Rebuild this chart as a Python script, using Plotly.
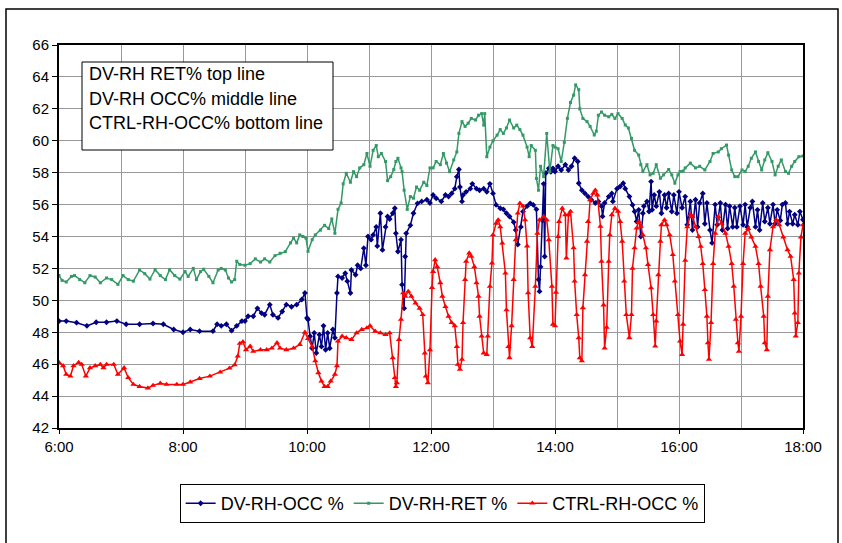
import pandas as pd
import plotly.graph_objects as go

# ---------------- data (minutes after 6:00, relative humidity %) ----------------
OCC_MIN = [0, 7, 17, 27, 36, 46, 56, 65, 78, 91, 101, 111, 120, 127, 136, 149, 153, 157, 162, 167,
           172, 177, 180, 183, 188, 192, 196, 199, 204, 207, 212, 216, 220, 225, 230, 235, 238, 240, 241, 243,
           245, 247, 249, 252, 254, 256, 258, 260, 262, 265, 267, 269, 270, 274, 277, 279, 282, 283, 287, 289,
           292, 295, 297, 299, 302, 304, 307, 308, 311, 313, 316, 318, 320, 323, 325, 326, 328, 331, 332, 334,
           335, 336, 340, 343, 347, 351, 356, 359, 362, 365, 370, 374, 377, 380, 383, 385, 387, 388, 390, 391,
           394, 398, 400, 404, 407, 411, 414, 417, 420, 423, 427, 430, 433, 436, 440, 442, 444, 447, 449, 453,
           456, 459, 462, 464, 465, 466, 468, 469, 470, 471, 474, 476, 478, 480, 483, 486, 490, 493, 496, 499,
           502, 503, 506, 509, 512, 515, 519, 522, 525, 526, 528, 532, 535, 536, 540, 543, 546, 548, 552, 555,
           557, 559, 561, 563, 565, 566, 569, 571, 573, 574, 576, 578, 581, 583, 586, 588, 590, 593, 595, 598,
           600, 603, 606, 608, 611, 613, 616, 618, 620, 623, 625, 627, 630, 632, 635, 637, 640, 642, 645, 647,
           649, 652, 654, 656, 659, 662, 664, 666, 669, 671, 674, 676, 678, 681, 683, 686, 688, 691, 693, 695,
           698, 700, 703, 705, 707, 710, 712, 715, 717, 720]
OCC_VAL = [48.7, 48.7, 48.6, 48.4, 48.63, 48.63, 48.7, 48.5, 48.5, 48.55, 48.5, 48.17, 48.0, 48.17, 48.07, 48.07, 48.5, 48.4, 48.5, 48.1,
           48.4, 48.7, 48.7, 49.0, 49.0, 49.5, 49.2, 49.1, 49.73, 49.1, 48.9, 49.3, 49.73, 49.6, 49.73, 50.05, 50.46, 48.9, 48.8, 47.75,
           47.0, 47.96, 46.7, 47.85, 47.1, 48.4, 46.9, 47.96, 47.0, 48.17, 47.65, 50.46, 51.5, 51.4, 51.7, 51.2, 50.46, 51.9, 51.6, 52.2,
           52.0, 53.27, 52.2, 54.0, 53.8, 54.1, 54.6, 53.4, 55.46, 53.16, 54.6, 55.25, 55.1, 55.46, 55.77, 54.2, 53.06, 53.8, 50.98, 49.5,
           52.75, 54.2, 54.7, 55.46, 56.08, 56.2, 56.3, 56.1, 56.6, 56.4, 56.2, 56.6, 56.5, 56.7, 57.0, 57.75, 58.2, 57.1, 56.2, 56.6,
           56.8, 57.0, 57.3, 57.0, 56.9, 57.0, 56.8, 57.3, 56.7, 55.98, 55.77, 55.7, 55.46, 55.25, 54.9, 54.4, 53.5, 54.6, 55.56, 55.9,
           56.08, 55.98, 55.7, 51.3, 50.56, 52.1, 55.0, 57.3, 52.75, 57.96, 58.27, 58.06, 58.27, 58.07, 58.4, 58.17, 58.5, 58.17, 58.4, 58.9,
           58.7, 57.34, 56.9, 56.7, 56.5, 56.3, 56.1, 56.2, 55.9, 55.26, 56.1, 56.5, 56.7, 56.2, 57.0, 57.13, 57.34, 57.0, 56.5, 55.98,
           55.57, 54.94, 55.67, 54.0, 55.46, 55.9, 56.2, 55.57, 57.44, 55.67, 56.6, 55.9, 56.8, 55.46, 56.6, 55.8, 56.7, 55.57, 56.6, 55.46,
           56.8, 55.8, 56.5, 54.73, 56.2, 54.4, 56.3, 54.6, 56.1, 56.7, 54.8, 56.1, 54.4, 53.6, 56.0, 54.73, 56.1, 54.4, 56.0, 54.5,
           55.9, 54.6, 55.8, 54.6, 55.9, 54.73, 56.0, 54.6, 55.8, 56.2, 54.6, 55.67, 54.4, 56.1, 54.94, 55.8, 54.8, 56.0, 54.8, 55.67,
           55.0, 56.0, 56.1, 54.8, 55.56, 54.8, 55.36, 54.73, 55.56, 55.05]

RET_MIN = [0, 3, 7, 12, 15, 20, 25, 30, 35, 40, 46, 51, 57, 62, 67, 72, 78, 83, 88, 93,
           98, 103, 107, 112, 117, 122, 125, 130, 133, 137, 140, 145, 149, 154, 157, 161, 164, 167, 170, 172,
           175, 180, 185, 190, 195, 199, 204, 209, 214, 219, 224, 227, 230, 233, 236, 239, 241, 245, 248, 253,
           257, 261, 264, 267, 270, 273, 275, 278, 282, 285, 288, 291, 295, 298, 301, 304, 307, 309, 312, 316,
           318, 321, 324, 326, 328, 331, 332, 334, 337, 340, 343, 346, 349, 353, 356, 359, 362, 365, 369, 372,
           375, 378, 382, 385, 387, 390, 393, 396, 399, 403, 406, 409, 411, 412, 414, 417, 420, 424, 427, 430,
           433, 436, 440, 443, 446, 449, 453, 455, 457, 461, 462, 464, 466, 469, 472, 475, 478, 480, 483, 486,
           489, 492, 495, 498, 500, 503, 504, 507, 511, 514, 518, 520, 522, 525, 528, 532, 535, 538, 541, 545,
           548, 551, 554, 557, 561, 563, 565, 569, 572, 575, 578, 582, 585, 590, 593, 596, 599, 601, 604, 606,
           611, 616, 620, 625, 630, 633, 638, 641, 646, 648, 651, 654, 657, 661, 664, 667, 670, 674, 677, 680,
           683, 686, 690, 693, 696, 699, 703, 706, 709, 712, 716, 720]
RET_VAL = [51.55, 51.25, 51.15, 51.5, 51.55, 51.3, 51.1, 51.55, 51.46, 51.1, 51.4, 51.3, 51.0, 51.55, 51.3, 51.2, 51.9, 51.67, 51.33, 51.92,
           51.55, 51.3, 51.92, 51.55, 51.33, 51.8, 51.5, 52.0, 51.3, 51.8, 51.95, 51.5, 51.1, 51.9, 52.0, 51.9, 51.4, 51.15, 51.3, 52.45,
           52.25, 52.2, 52.3, 52.6, 52.4, 52.6, 52.4, 52.8, 52.95, 53.05, 53.6, 53.9, 53.6, 54.1, 54.0, 53.9, 53.07, 53.8, 54.1, 54.4,
           54.7, 54.5, 55.1, 54.2, 55.7, 56.1, 57.3, 57.96, 57.4, 58.06, 57.75, 58.3, 58.5, 59.2, 58.4, 59.4, 59.7, 59.0, 59.2, 58.7,
           57.5, 57.75, 58.2, 58.7, 58.9, 58.3, 58.06, 56.9, 55.7, 56.5, 56.4, 57.1, 56.9, 57.4, 57.2, 58.3, 58.3, 58.7, 58.5, 59.2,
           58.6, 58.06, 58.8, 59.3, 60.46, 61.2, 60.9, 61.1, 61.4, 61.3, 61.6, 61.7, 60.98, 61.7, 59.0, 59.6, 60.0, 60.35, 60.7, 60.46,
           60.8, 61.3, 60.8, 60.98, 60.7, 60.35, 59.6, 59.0, 59.7, 59.4, 57.64, 56.9, 58.4, 57.75, 60.46, 58.06, 59.7, 59.6, 59.5, 58.7,
           59.9, 61.4, 62.4, 62.86, 63.5, 63.2, 62.0, 61.4, 61.2, 60.9, 60.36, 60.6, 61.6, 61.8, 61.6, 61.5, 61.65, 61.4, 61.7, 61.4,
           60.99, 60.8, 60.15, 59.4, 59.1, 58.5, 58.07, 58.5, 57.86, 57.96, 58.5, 57.65, 57.86, 58.2, 57.86, 57.34, 57.86, 58.07, 58.1, 58.3,
           58.6, 58.3, 58.4, 58.17, 58.7, 59.2, 59.3, 59.5, 59.73, 59.1, 58.17, 57.75, 57.75, 58.17, 58.07, 58.4, 58.9, 59.3, 58.7, 58.17,
           58.8, 59.25, 58.7, 57.86, 58.4, 58.8, 58.07, 57.96, 58.4, 58.7, 59.0, 59.04]

CTRL_MIN = [0, 4, 7, 11, 14, 19, 22, 26, 30, 35, 40, 43, 46, 53, 57, 63, 67, 72, 78, 86,
            91, 98, 104, 114, 120, 127, 136, 146, 156, 165, 170, 173, 175, 178, 181, 185, 188, 195, 201, 206,
            211, 214, 220, 227, 233, 238, 241, 245, 248, 251, 254, 257, 260, 263, 267, 269, 270, 274, 278, 283,
            288, 293, 298, 301, 306, 311, 316, 320, 323, 325, 326, 327, 329, 331, 333, 335, 338, 341, 345, 349,
            352, 354, 355, 357, 359, 361, 362, 364, 366, 369, 371, 374, 377, 380, 383, 385, 386, 388, 390, 391,
            393, 394, 397, 399, 402, 404, 406, 407, 409, 411, 414, 415, 417, 419, 420, 423, 425, 427, 429, 432,
            433, 435, 436, 438, 440, 442, 444, 446, 449, 451, 453, 454, 456, 458, 461, 463, 465, 469, 472, 474,
            477, 478, 480, 481, 483, 484, 487, 490, 491, 493, 495, 498, 499, 501, 503, 504, 506, 507, 509, 511,
            512, 514, 517, 519, 521, 524, 525, 527, 528, 530, 532, 533, 535, 538, 541, 543, 545, 547, 549, 552,
            554, 555, 557, 559, 561, 563, 565, 568, 570, 573, 575, 577, 578, 580, 582, 583, 586, 588, 591, 594,
            596, 599, 601, 603, 604, 606, 608, 611, 613, 616, 619, 621, 623, 625, 627, 628, 629, 631, 633, 635,
            638, 641, 645, 648, 651, 653, 655, 657, 658, 660, 662, 664, 667, 670, 674, 677, 679, 682, 683, 685,
            686, 688, 691, 694, 697, 701, 705, 708, 711, 712, 713, 715, 716, 718, 720]
CTRL_VAL = [46.1, 45.9, 45.36, 45.25, 45.9, 46.1, 45.98, 45.25, 45.77, 45.9, 45.98, 45.77, 45.98, 45.98, 45.36, 45.77, 45.15, 44.73, 44.6, 44.5,
            44.67, 44.8, 44.73, 44.73, 44.73, 44.88, 45.1, 45.25, 45.5, 45.75, 45.95, 46.5, 47.3, 47.4, 46.9, 47.13, 46.8, 46.9, 46.9, 47.0,
            47.34, 47.0, 46.9, 47.0, 47.23, 48.0, 47.6, 47.1, 46.2, 45.46, 44.94, 44.6, 44.6, 44.94, 45.36, 45.9, 47.44, 47.75, 47.65, 47.54,
            47.96, 48.17, 48.27, 48.4, 48.06, 47.96, 47.85, 47.96, 46.4, 45.15, 44.6, 44.83, 47.54, 48.8, 50.46, 50.25, 50.56, 50.25, 49.83, 49.5,
            49.1, 46.7, 45.25, 44.83, 46.9, 50.8, 51.8, 52.54, 52.1, 51.1, 50.25, 49.6, 49.0, 48.6, 48.4, 47.1, 45.98, 45.67, 46.3, 48.6,
            51.3, 52.44, 52.96, 52.75, 52.1, 51.1, 50.25, 49.0, 47.75, 46.7, 46.6, 47.75, 50.87, 52.33, 54.1, 54.83, 55.04, 54.6, 53.58, 51.7,
            49.4, 47.1, 46.4, 48.4, 51.3, 53.79, 55.46, 56.08, 55.9, 55.04, 53.4, 50.46, 47.65, 47.1, 50.87, 54.2, 55.04, 55.25, 55.04, 53.79,
            50.87, 48.5, 48.4, 50.5, 54.0, 54.94, 55.77, 55.36, 52.65, 55.36, 55.57, 53.28, 51.2, 49.1, 47.65, 46.4, 46.2, 49.53, 51.6, 53.7,
            54.94, 56.3, 56.7, 56.9, 56.6, 54.63, 52.44, 49.7, 47.0, 48.3, 52.44, 54.1, 55.36, 55.77, 55.57, 54.94, 53.7, 51.2, 49.1, 47.65,
            49.1, 52.0, 53.28, 54.52, 54.94, 54.63, 54.1, 53.28, 52.24, 50.78, 49.1, 47.13, 48.7, 51.6, 53.7, 54.73, 55.04, 54.73, 54.1, 52.86,
            51.2, 49.1, 47.44, 46.6, 48.5, 52.5, 54.6, 55.36, 55.25, 54.6, 54.0, 53.38, 52.3, 50.67, 49.0, 47.34, 46.3, 48.6, 52.3, 54.2,
            55.25, 54.83, 54.2, 53.38, 52.3, 50.88, 48.8, 47.34, 46.8, 49.0, 52.3, 54.2, 54.5, 53.96, 53.38, 52.3, 50.88, 49.0, 47.34, 46.9,
            50.25, 53.17, 54.6, 55.05, 54.73, 53.96, 53.17, 52.75, 51.3, 49.2, 47.75, 48.6, 51.7, 53.96, 54.73]

SERIES_NAMES = ["DV-RH-OCC %", "DV-RH-RET %", "CTRL-RH-OCC %"]
NOTE_LINES = ["DV-RH RET% top line", "DV-RH OCC% middle line", "CTRL-RH-OCC% bottom line"]
Y_RANGE = [42, 66]
X_START, X_END = "2000-01-01 06:00", "2000-01-01 18:00"

# ---------------- build ----------------
base = pd.Timestamp(X_START)
def to_time(mins):
    return [base + pd.Timedelta(minutes=m) for m in mins]

FONT = "Liberation Sans, Arial, sans-serif"
fig = go.Figure()
specs = [
    (OCC_MIN, OCC_VAL, SERIES_NAMES[0], "#000080", "diamond", 4.5),
    (RET_MIN, RET_VAL, SERIES_NAMES[1], "#339966", "square", 3),
    (CTRL_MIN, CTRL_VAL, SERIES_NAMES[2], "#FF0000", "triangle-up", 5.5),
]
for mins, vals, name, col, sym, msz in specs:
    fig.add_trace(go.Scatter(
        x=to_time(mins), y=vals, name=name, mode="lines+markers",
        line=dict(color=col, width=1.5),
        marker=dict(color=col, symbol=sym, size=msz, line=dict(width=0)),
    ))

L, R, T, B = 59, 39, 45, 115
W, H = 842, 543
pw, ph = W - L - R, H - T - B

def px(x):
    return (x - L) / pw

def py(y):
    return (H - B - y) / ph

fig.update_layout(
    width=W, height=H,
    margin=dict(l=L, r=R, t=T, b=B),
    paper_bgcolor="white", plot_bgcolor="white",
    font=dict(family=FONT, size=15, color="black"),
    showlegend=True,
    legend=dict(orientation="h", x=0.515, xanchor="center", y=py(484), yanchor="top",
                bordercolor="black", borderwidth=1, bgcolor="white",
                font=dict(size=18, family=FONT), itemwidth=30, tracegroupgap=0),
    xaxis=dict(type="date", range=[X_START, X_END], tickformat="%-H:%M",
               dtick=2 * 3600 * 1000, tick0=X_START,
               showgrid=True, gridcolor="#999999", gridwidth=1,
               minor=dict(dtick=3600 * 1000, showgrid=True, gridcolor="#999999", gridwidth=1),
               showline=True, linecolor="black", linewidth=2, mirror=True,
               ticks="outside", ticklen=4, tickcolor="black",
               tickfont=dict(size=15), zeroline=False),
    yaxis=dict(range=Y_RANGE, dtick=2, showgrid=True, gridcolor="#999999", gridwidth=1,
               showline=True, linecolor="black", linewidth=2, mirror=True,
               ticks="outside", ticklen=5, tickcolor="black",
               tickfont=dict(size=15), zeroline=False),
)

# note box
fig.add_shape(type="rect", xref="paper", yref="paper",
              x0=px(82), x1=px(333), y0=py(150), y1=py(62),
              line=dict(color="black", width=1), fillcolor="white", layer="above")
for txt, yc in zip(NOTE_LINES, [74, 99, 123]):
    fig.add_annotation(text=txt, xref="paper", yref="paper", x=px(87), y=py(yc),
                       xanchor="left", yanchor="middle", showarrow=False,
                       font=dict(size=18, family=FONT, color="black"))

# outer chart frame
fig.add_shape(type="rect", xref="paper", yref="paper",
              x0=px(6), x1=px(838), y0=py(560), y1=py(9),
              line=dict(color="black", width=1.5), fillcolor="rgba(0,0,0,0)", layer="below")

fig.write_html("out.html", config={"displayModeBar": False},
               post_script="document.body.style.margin='0px';document.body.style.overflow='hidden';")
